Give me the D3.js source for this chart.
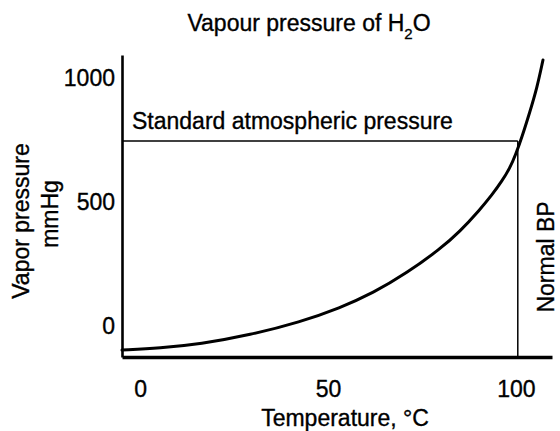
<!DOCTYPE html>
<html>
<head>
<meta charset="utf-8">
<script src="https://cdn.jsdelivr.net/npm/d3@7/dist/d3.min.js"></script>
<style>
  html, body { margin: 0; padding: 0; background: #fff; }
  svg { display: block; }
  text { font-family: "Liberation Sans", Arial, Helvetica, sans-serif; fill: #000; stroke: #000; stroke-width: 0.35px; }
</style>
</head>
<body>
<svg id="chart" width="560" height="431"></svg>
<script>
// Data
const temperatures = [-4.8, 5.3, 16, 29.3, 42.6, 53.2, 62, 71, 79.8, 85.1, 90.4, 93.6, 96.3, 98.4, 100, 101.6, 103.7, 105.6, 107.2];
const pressures    = [-101, -93, -77, -40, 12, 69, 129, 210, 306, 377, 465, 524, 581, 633, 690, 758, 859, 956, 1069];
const xTicks = [0, 50, 100];
const yTicks = [0, 500, 1000];
const standardPressure = 742;   // horizontal reference line
const boilingPoint = 100.5;     // vertical reference line

const svg = d3.select("#chart");
const FS = 23;

const x = d3.scaleLinear().domain([-4.8, 109.6]).range([122, 552]);
const y = d3.scaleLinear().domain([-129, 1089]).range([357, 55]);

// Axes
const yAxis = d3.axisLeft(y).tickValues(yTicks).tickSize(0).tickSizeOuter(0).tickPadding(7).tickFormat(d3.format("d"));
const gy = svg.append("g").attr("transform", "translate(122,0)").call(yAxis);
gy.select(".domain").attr("stroke", "#000").attr("stroke-width", 2.6);
gy.selectAll("text").attr("font-size", FS).attr("dy", "0.35em")
  .style("font-family", '"Liberation Sans", Arial, sans-serif');

const xAxis = d3.axisBottom(x).tickValues(xTicks).tickSize(0).tickSizeOuter(0).tickFormat(d3.format("d"));
const gx = svg.append("g").attr("transform", "translate(0,357)").call(xAxis);
gx.select(".domain").attr("stroke", "#000").attr("stroke-width", 3.5);
gx.selectAll("text").attr("font-size", FS).attr("y", 40).attr("dy", 0)
  .style("font-family", '"Liberation Sans", Arial, sans-serif');

// Reference lines
svg.append("line")
  .attr("x1", x(-4.8)).attr("x2", x(boilingPoint))
  .attr("y1", y(standardPressure)).attr("y2", y(standardPressure))
  .attr("stroke", "#000").attr("stroke-width", 1.5);
svg.append("line")
  .attr("x1", x(boilingPoint)).attr("x2", x(boilingPoint))
  .attr("y1", y(standardPressure)).attr("y2", 357)
  .attr("stroke", "#000").attr("stroke-width", 1.5);

// Curve
const pts = temperatures.map((t, i) => [t, pressures[i]]);
svg.append("path")
  .datum(pts)
  .attr("fill", "none")
  .attr("stroke", "#000")
  .attr("stroke-width", 3)
  .attr("stroke-linecap", "round")
  .attr("d", d3.line().x(d => x(d[0])).y(d => y(d[1])).curve(d3.curveBasis));

// Title with subscript
const title = svg.append("text").attr("x", 309).attr("y", 31)
  .attr("text-anchor", "middle").attr("font-size", FS);
title.append("tspan").text("Vapour pressure of H");
title.append("tspan").attr("font-size", 15).attr("dy", 8).text("2");
title.append("tspan").attr("dy", -8).text("O");

// Reference line label
svg.append("text").attr("x", 132).attr("y", 129).attr("font-size", FS)
  .text("Standard atmospheric pressure");

// Axis titles
svg.append("text").attr("transform", "translate(345,426)")
  .attr("text-anchor", "middle").attr("font-size", FS).text("Temperature, °C");
svg.append("text").attr("transform", "translate(28.5,221) rotate(-90)")
  .attr("text-anchor", "middle").attr("font-size", FS).text("Vapor pressure");
svg.append("text").attr("transform", "translate(58,214) rotate(-90)")
  .attr("text-anchor", "middle").attr("font-size", FS).text("mmHg");
svg.append("text").attr("transform", "translate(554,257) rotate(-90)")
  .attr("text-anchor", "middle").attr("font-size", FS).text("Normal BP");
</script>
</body>
</html>
